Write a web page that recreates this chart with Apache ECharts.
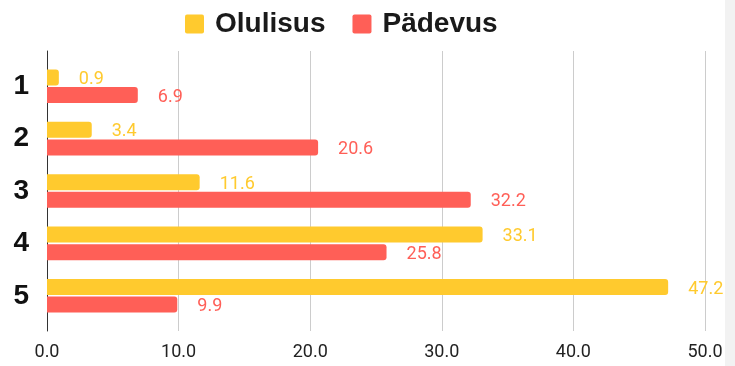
<!DOCTYPE html>
<html>
<head>
<meta charset="utf-8">
<script src="https://cdn.jsdelivr.net/npm/echarts@6/dist/echarts.min.js"></script>
<style>
  html, body { margin: 0; padding: 0; background: #ffffff; }
  #chart { width: 735px; height: 366px; }
</style>
</head>
<body>
<div id="chart"></div>
<script>
// Rating levels shown on the vertical axis
const categories = ['1', '2', '3', '4', '5'];
// Share of answers per rating level (percent)
const olulisus = [0.9, 3.4, 11.6, 33.1, 47.2];
const padevus = [6.9, 20.6, 32.2, 25.8, 9.9];
const seriesNames = ['Olulisus', 'Pädevus'];

const YELLOW = '#FFCA2E';
const RED = '#FF5F57';

// square legend swatch with slightly softened corners
const SWATCH = 'path://M2,0 H17 Q19,0 19,2 V17 Q19,19 17,19 H2 Q0,19 0,17 V2 Q0,0 2,0 Z';

const chart = echarts.init(document.getElementById('chart'), null, { renderer: 'canvas' });

function barSeries(name, values, color) {
  return {
    name: name,
    type: 'bar',
    xAxisIndex: 1,
    yAxisIndex: 1,
    data: values,
    barWidth: 16,
    barGap: '10%',
    itemStyle: { color: color, borderRadius: [0, 3, 3, 0] },
    label: {
      show: true,
      position: 'right',
      distance: 20,
      offset: [0, 2],
      color: color,
      fontFamily: 'Roboto',
      fontSize: 18,
      formatter: p => p.value.toFixed(1)
    }
  };
}

chart.setOption({
  animation: false,
  legend: {
    top: 5,
    left: 180,
    itemWidth: 19,
    itemHeight: 19,
    itemGap: 27,
    icon: SWATCH,
    textStyle: { fontFamily: 'Liberation Sans', fontWeight: 'bold', fontSize: 28, color: '#1a1a1a', padding: [0, 0, 0, 6] },
    data: seriesNames
  },
  grid: [
    // frame: gridlines, tick labels and the vertical baseline
    { left: 47, right: 30, top: 51, bottom: 35 },
    // bars
    { left: 47, right: 30, top: 60, bottom: 44 }
  ],
  xAxis: [{
    gridIndex: 0,
    type: 'value',
    min: 0,
    max: 50,
    interval: 10,
    axisLine: { show: false },
    axisTick: { show: false },
    splitLine: { lineStyle: { color: '#cccccc', width: 1 } },
    axisLabel: {
      margin: 12,
      color: '#222222',
      fontFamily: 'Roboto',
      fontSize: 18,
      formatter: v => v.toFixed(1)
    }
  }, {
    gridIndex: 1,
    type: 'value',
    min: 0,
    max: 50,
    show: false
  }],
  yAxis: [{
    gridIndex: 0,
    type: 'value',
    min: 0,
    max: 1,
    axisLine: { show: true, onZero: false, lineStyle: { color: '#333333', width: 1 } },
    axisTick: { show: false },
    axisLabel: { show: false },
    splitLine: { show: false }
  }, {
    gridIndex: 1,
    type: 'category',
    inverse: true,
    data: categories,
    axisLine: { show: false },
    axisTick: { show: false },
    splitLine: { show: false },
    axisLabel: {
      margin: 18,
      color: '#111111',
      fontFamily: 'Liberation Sans',
      fontWeight: 'bold',
      fontSize: 28
    }
  }],
  graphic: [{
    type: 'rect',
    right: 0,
    top: 0,
    z: 100,
    shape: { width: 10, height: 366 },
    style: { fill: '#f2f2f2' }
  }],
  series: [
    barSeries(seriesNames[0], olulisus, YELLOW),
    barSeries(seriesNames[1], padevus, RED)
  ]
});
</script>
</body>
</html>
